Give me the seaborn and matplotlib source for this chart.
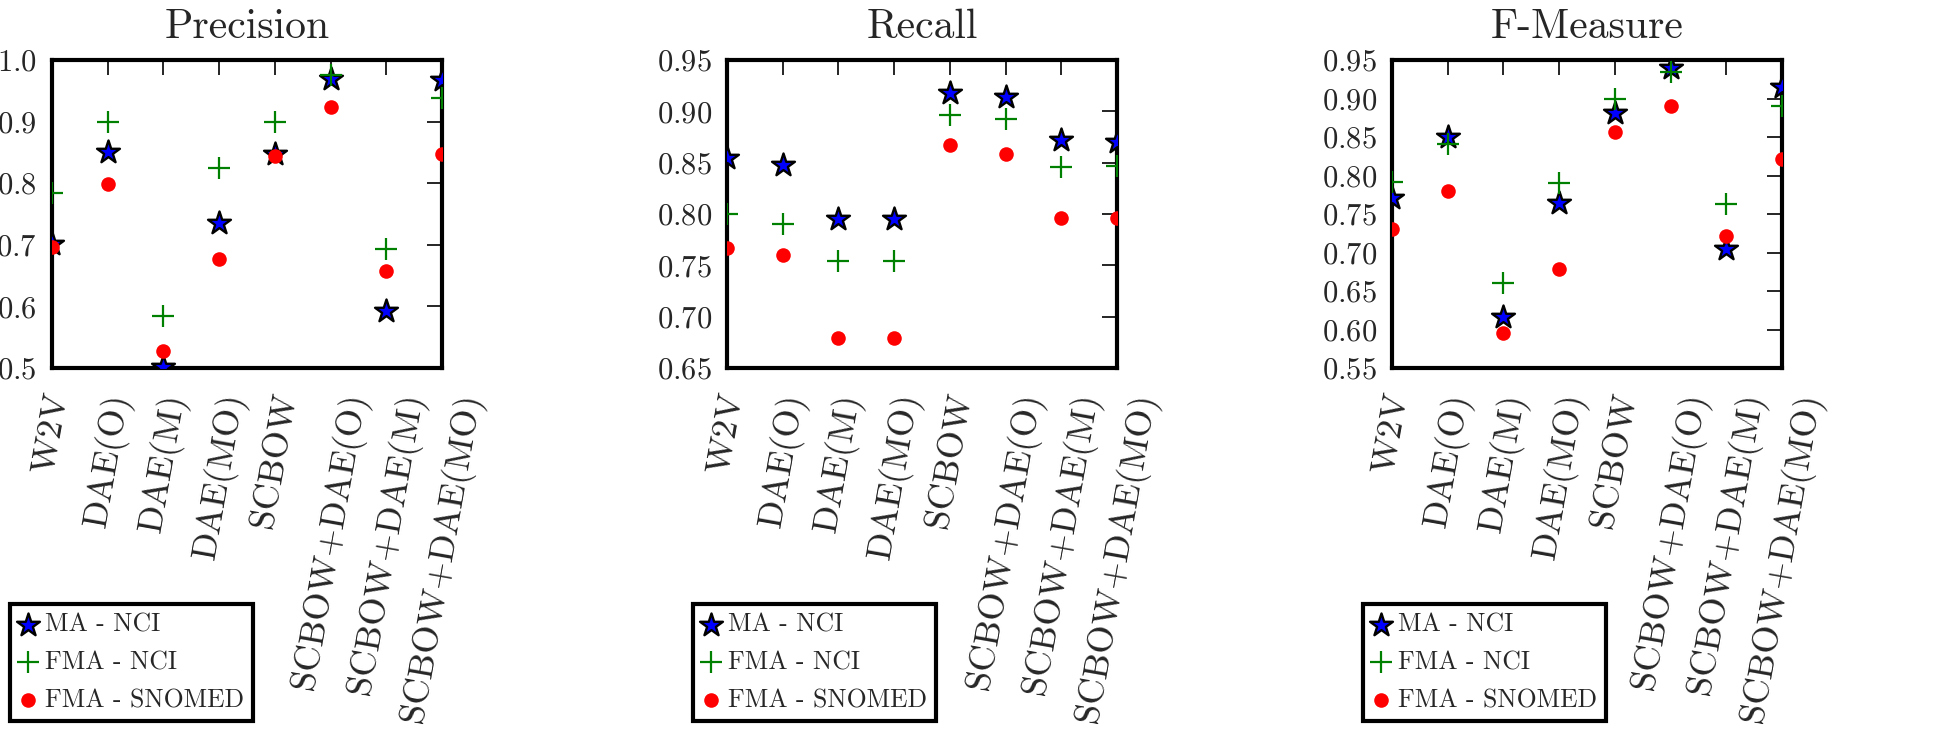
import numpy as np
import pandas as pd
import seaborn as sns
import matplotlib.pyplot as plt
from matplotlib.ticker import MultipleLocator

methods = ["W2V", "DAE(O)", "DAE(M)", "DAE(MO)", "SCBOW",
           "SCBOW+DAE(O)", "SCBOW+DAE(M)", "SCBOW+DAE(MO)"]
series = ["MA - NCI", "FMA - NCI", "FMA - SNOMED"]

precision_ma_nci = [0.702, 0.851, 0.501, 0.735, 0.847, 0.969, 0.592, 0.967]
precision_fma_nci = [0.784, 0.899, 0.584, 0.825, 0.900, 0.976, 0.693, 0.939]
precision_fma_snomed = [0.696, 0.799, 0.528, 0.677, 0.844, 0.924, 0.657, 0.847]

recall_ma_nci = [0.855, 0.848, 0.795, 0.795, 0.918, 0.914, 0.872, 0.870]
recall_fma_nci = [0.800, 0.790, 0.754, 0.754, 0.896, 0.893, 0.846, 0.847]
recall_fma_snomed = [0.767, 0.760, 0.679, 0.679, 0.867, 0.858, 0.796, 0.796]

fmeasure_ma_nci = [0.771, 0.850, 0.616, 0.764, 0.881, 0.939, 0.705, 0.915]
fmeasure_fma_nci = [0.791, 0.841, 0.660, 0.790, 0.899, 0.935, 0.763, 0.890]
fmeasure_fma_snomed = [0.731, 0.780, 0.595, 0.679, 0.856, 0.890, 0.722, 0.822]

panels = [
    ("Precision", [precision_ma_nci, precision_fma_nci, precision_fma_snomed], (0.5, 1.0), 0.1),
    ("Recall", [recall_ma_nci, recall_fma_nci, recall_fma_snomed], (0.65, 0.95), 0.05),
    ("F-Measure", [fmeasure_ma_nci, fmeasure_fma_nci, fmeasure_fma_snomed], (0.55, 0.95), 0.05),
]

sns.set_theme(style="white")
plt.rcParams["font.family"] = "serif"
plt.rcParams["font.serif"] = ["cmr10"]
plt.rcParams["mathtext.fontset"] = "cm"
plt.rcParams["axes.formatter.use_mathtext"] = True

styles = [
    dict(marker="*", s=300, color="blue", edgecolor="black", linewidth=1.7),
    dict(marker="+", s=260, color="green", linewidth=1.6),
    dict(marker="o", s=110, color="red", linewidth=0),
]

fig = plt.figure(figsize=(19.46, 7.32), dpi=100)
lefts = [52, 727, 1392]
legend_dx = [-42, -34, -29]
x = np.arange(len(methods))

for (title, values, ylim, step), left, ldx in zip(panels, lefts, legend_dx):
    ax = fig.add_axes([left / 1946, (732 - 368) / 732, 390 / 1946, 308 / 732])
    for name, vals, st in zip(series, values, styles):
        df = pd.DataFrame({"x": x, "y": vals})
        sns.scatterplot(data=df, x="x", y="y", label=name, ax=ax, zorder=3, **st)
    ax.set_xlim(0, len(methods) - 1)
    ax.set_ylim(*ylim)
    ax.yaxis.set_major_locator(MultipleLocator(step))
    ax.set_xticks(x)
    ax.set_xticklabels(methods, rotation=80, ha="center", va="top")
    ax.set_xlabel("")
    ax.set_ylabel("")
    ax.set_title(title, fontsize=30, pad=16)
    for sp in ax.spines.values():
        sp.set_linewidth(3)
        sp.set_color("black")
    ax.tick_params(direction="in", length=11, width=1.2, top=True, right=True,
                   labelsize=22, color="black")
    ax.tick_params(axis="y", pad=11)
    ax.tick_params(axis="x", pad=16, labelsize=26)
    leg = ax.legend(loc="lower left", bbox_to_anchor=(ldx / 390, (368 - 721) / 308),
                    borderaxespad=0, fontsize=18.5, frameon=True, fancybox=False,
                    framealpha=1, edgecolor="black", handlelength=0.7,
                    handletextpad=0.3, borderpad=0.35, labelspacing=0.55,
                    scatterpoints=1)
    leg.get_frame().set_linewidth(3)

fig.savefig("out.png", dpi=100)
